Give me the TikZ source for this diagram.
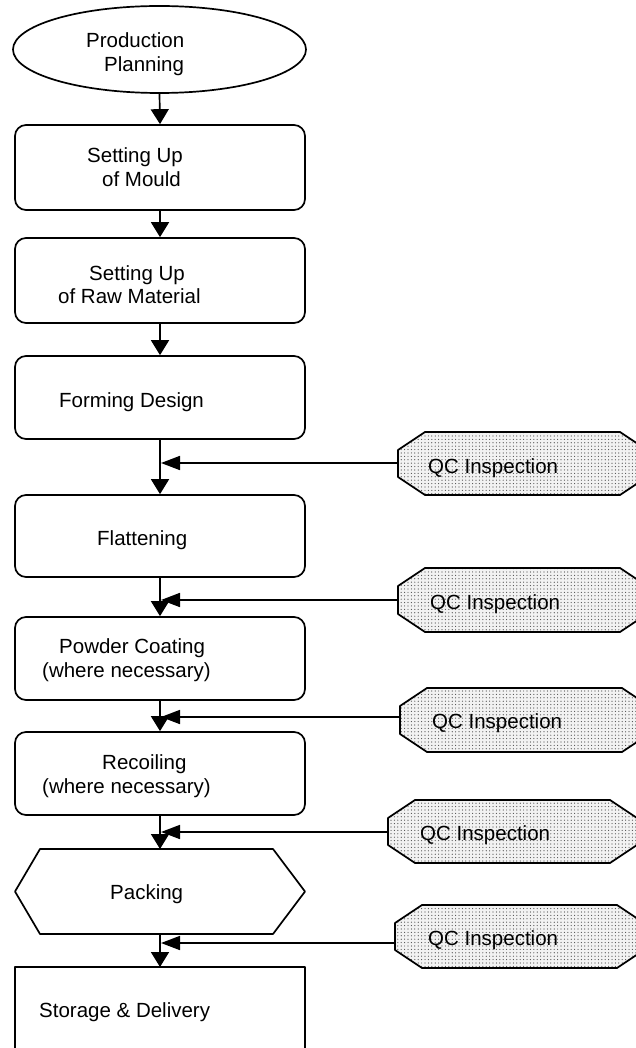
\documentclass[tikz,border=0pt]{standalone}
\usepackage{fontspec}
\setmainfont{Liberation Sans}
\usetikzlibrary{arrows.meta,shapes.geometric,patterns.meta}
\begin{document}
\begin{tikzpicture}[x=1pt,y=-1pt,
  outline/.style={line width=1.7pt, line join=round},
  stepbox/.style={draw, line width=1.7pt, rounded corners=11pt, minimum width=290pt, inner sep=0pt},
  txt/.style={anchor=base west, inner sep=0pt, font=\fontsize{20.5}{24}\selectfont},
  flow/.style={line width=1.7pt, -{Triangle[width=18pt,length=15pt]}},
  feed/.style={line width=1.7pt, -{Triangle[width=14pt,length=19pt]}},
  qcshape/.style={draw, line width=1.7pt, line join=round, preaction={fill=gray!10},
    pattern={Dots[distance=3.4pt,radius=0.6pt]}, pattern color=black!70}
]
% page area
\clip (0,0) rectangle (636,1048);
\fill[white] (0,0) rectangle (636,1048);

% main process chain
\node[draw, ellipse, line width=1.7pt, minimum width=293pt, minimum height=87pt, inner sep=0pt] (plan) at (159.5,49.5) {};
\node[stepbox, minimum height=85pt] (mould)  at (160,167.5) {};
\node[stepbox, minimum height=85pt] (raw)    at (160,280.5) {};
\node[stepbox, minimum height=83pt] (form)   at (160,397.5) {};
\node[stepbox, minimum height=82pt] (flat)   at (160,536) {};
\node[stepbox, minimum height=83pt] (powder) at (160,658.5) {};
\node[stepbox, minimum height=83pt] (recoil) at (160,773.5) {};

% packing hexagon
\draw[outline] (15,891.5) -- (40,849) -- (273,849) -- (305,891.5) -- (273,934) -- (40,934) -- cycle;
\coordinate (packtop) at (160,849);
\coordinate (packbot) at (160,934);

% storage box runs off the page bottom
\draw[outline] (15,1070) -- (15,967) -- (305,967) -- (305,1070);
\coordinate (store) at (160,967);

% labels
\node[txt] (t1a) at (86,48)  {Production};
\node[txt] (t1b) at (104,72) {Planning};
\node[txt] (t2a) at (87,163) {Setting Up};
\node[txt] (t2b) at (102,187) {of Mould};
\node[txt] (t3a) at (89,280) {Setting Up};
\node[txt] (t3b) at (58,303) {of Raw Material};
\node[txt] (t4)  at (59,407) {Forming Design};
\node[txt] (t5)  at (97,545) {Flattening};
\node[txt] (t6a) at (59,653) {Powder Coating};
\node[txt] (t6b) at (42,677) {(where necessary)};
\node[txt] (t7a) at (102,769) {Recoiling};
\node[txt] (t7b) at (42,793) {(where necessary)};
\node[txt] (t8)  at (110,899) {Packing};
\node[txt] (t9)  at (39,1017) {Storage \& Delivery};

% flow arrows
\draw[flow] (plan.south)   -- (mould.north);
\draw[flow] (mould.south)  -- (raw.north);
\draw[flow] (raw.south)    -- (form.north);
\draw[flow] (form.south)   -- (flat.north);
\draw[flow] (flat.south)   -- (powder.north);
\draw[flow] (powder.south) -- (recoil.north);
\draw[flow] (recoil.south) -- (packtop);
\draw[flow] (packbot)      -- (store);

% inspection points feeding the chain
\foreach \i/\lx/\tp/\bt/\ly/\tx/\bl in {
  1/398/432/495/463/428/473,
  2/398/568/632/600/430/609,
  3/400/688/752/717/432/728,
  4/388/800/863/832/420/840,
  5/395/905/968/943/428/945}{
  \path[qcshape] (\lx,\tp+18) -- (\lx+27,\tp) -- (\lx+222,\tp) -- (\lx+249,\tp+18)
     -- (\lx+249,\bt-18) -- (\lx+222,\bt) -- (\lx+27,\bt) -- (\lx,\bt-18) -- cycle;
  \coordinate (qc\i) at (\lx,\ly);
  \coordinate (j\i) at (161,\ly);
  \node[txt] (qt\i) at (\tx,\bl) {QC Inspection};
  \draw[feed] (qc\i) -- (j\i);
}
\end{tikzpicture}
\end{document}
